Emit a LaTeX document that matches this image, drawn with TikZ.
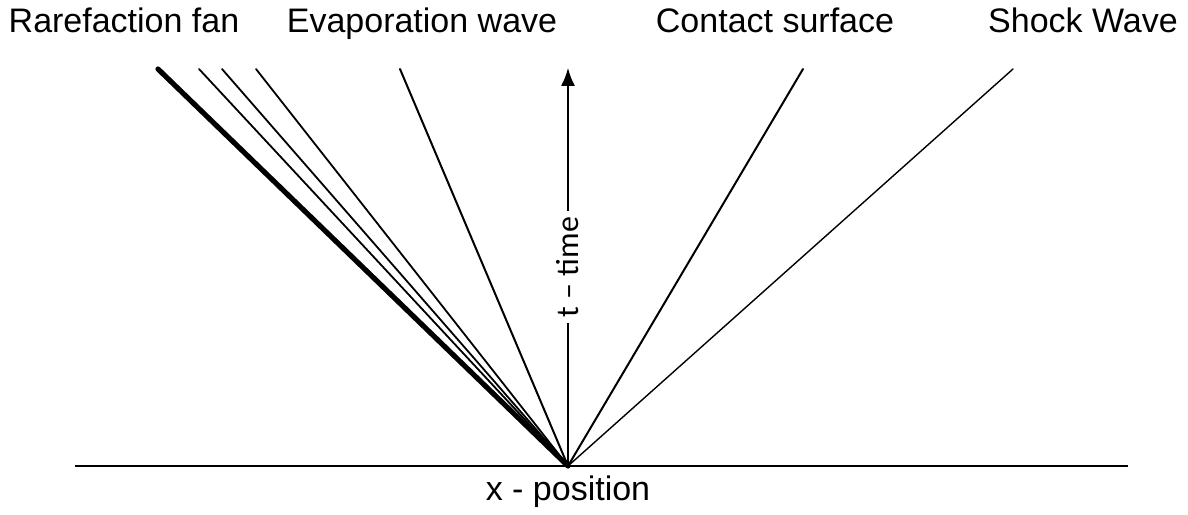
\documentclass[tikz,border=0pt]{standalone}
\usepackage{fontspec}
\setmainfont{Liberation Sans}
\newfontfamily\axisfont{Carlito}
\usetikzlibrary{arrows.meta, positioning}

\begin{document}
\begin{tikzpicture}[
  x=0.5pt, y=0.5pt,
  label/.style={inner sep=0pt, anchor=base, font=\fontsize{17}{20}\selectfont},
  wave/.style={line width=1pt, line cap=round},
  fan/.style={line width=0.9pt, line cap=round},
  arrow/.style={-{Latex[length=9pt,width=7pt]}, line width=0.8pt}
]
\useasboundingbox (-568,-48) rectangle (620,466);

% origin and x axis
\coordinate (o) at (0,0);
\coordinate (xl) at (-493,0);
\coordinate (xr) at (560,0);
\draw[line width=0.8pt] (xl) -- (xr);
\node[label] (xpos) at (0,-34) {x - position};

% ends of the waves
\coordinate (rf1) at (-410,397);
\coordinate (rf2) at (-369,397);
\coordinate (rf3) at (-346,397);
\coordinate (rf4) at (-312,397);
\coordinate (ev) at (-168,397);
\coordinate (cs) at (235,397);
\coordinate (sw) at (445,397);
\coordinate (tt) at (0,398);

% Rarefaction fan
\draw[line width=2.6pt, line cap=round] (o) -- (rf1);
\draw[fan] (o) -- (rf2);
\draw[fan] (o) -- (rf3);
\draw[fan] (o) -- (rf4);

% Evaporation wave, contact surface, shock
\draw[wave] (o) -- (ev);
\draw[wave] (o) -- (cs);
\draw[line width=0.7pt, line cap=round] (o) -- (sw);

% time axis
\draw[arrow] (o) -- node[midway, sloped, fill=white, inner sep=3pt, font=\axisfont\fontsize{16}{19}\selectfont] {t – time} (tt);

% labels
\node[label] (rflab) at (-444,433) {Rarefaction fan};
\node[label] (evlab) at (-146,433) {Evaporation wave};
\node[label] (cslab) at (207,433) {Contact surface};
\node[label] (swlab) at (515,433) {Shock Wave};

\end{tikzpicture}
\end{document}
